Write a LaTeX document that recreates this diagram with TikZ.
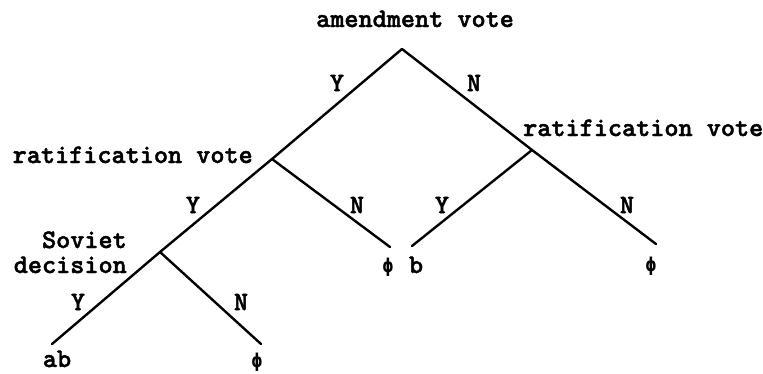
\documentclass[tikz,border=0pt]{standalone}
\usepackage{graphicx}
\usepackage{fontspec}
\newfontfamily\phifont{DejaVu Sans}
\newcommand{\heavy}[1]{\special{pdf:literal direct 2 Tr 0.45 w}#1\special{pdf:literal direct 0 Tr}}
\newcommand{\myphi}{\scalebox{0.75}[1]{\fontsize{19}{22}\selectfont\phifont\bfseries ϕ}}
\begin{document}
\begin{tikzpicture}[x=1pt,y=-1pt,
  edge/.style={line width=2.4pt,line cap=round},
  txt/.style={inner sep=0pt,font=\fontsize{26.9}{30}\selectfont\ttfamily\bfseries},
  lbl/.style={inner sep=0pt,anchor=center,font=\fontsize{26.9}{30}\selectfont\ttfamily\bfseries},
  leaf/.style={inner sep=0pt,anchor=base,font=\fontsize{26.9}{30}\selectfont\ttfamily\bfseries}]
\useasboundingbox (0,0) rectangle (763,373);
% branch points
\coordinate (root) at (402,49);
\coordinate (L) at (272,159);
\coordinate (R) at (532,150);
\coordinate (S) at (160,252);
% edge ends
\coordinate (eL2) at (390,247);
\coordinate (eR1) at (412,246);
\coordinate (eR2) at (656,244);
\coordinate (eS1) at (52,344);
\coordinate (eS2) at (261,344);
% texts
\node[txt,anchor=base west] (tam) at (316,27) {\heavy{amendment vote}};
\node[txt,anchor=base east] (trl) at (253,163) {\heavy{ratification vote}};
\node[txt,anchor=base west] (trr) at (523,136) {\heavy{ratification vote}};
\node[txt,anchor=base east] (tsov) at (127,248) {\heavy{Soviet}};
\node[txt,anchor=base east] (tdec) at (127,273) {\heavy{decision}};
% edges
\draw[edge] (root) -- (L);
\draw[edge] (root) -- (R);
\draw[edge] (L) -- (S);
\draw[edge] (L) -- (eL2);
\draw[edge] (R) -- (eR1);
\draw[edge] (R) -- (eR2);
\draw[edge] (S) -- (eS1);
\draw[edge] (S) -- (eS2);
% edge labels
\node[lbl] (y1) at (337,83) {\heavy{Y}};
\node[lbl] (n1) at (474,83) {\heavy{N}};
\node[lbl] (y2) at (193,205) {\heavy{Y}};
\node[lbl] (n2) at (357,205) {\heavy{N}};
\node[lbl] (y3) at (442,205) {\heavy{Y}};
\node[lbl] (n3) at (627,205) {\heavy{N}};
\node[lbl] (y4) at (78,302) {\heavy{Y}};
\node[lbl] (n4) at (241,302) {\heavy{N}};
% leaves
\node[leaf] (f1) at (388,272) {\myphi};
\node[leaf] (b1) at (416,273) {\heavy{b}};
\node[leaf] (f2) at (651,271) {\myphi};
\node[leaf] (ab) at (57,367) {\heavy{ab}};
\node[leaf] (f3) at (257,367) {\myphi};
\end{tikzpicture}
\end{document}
